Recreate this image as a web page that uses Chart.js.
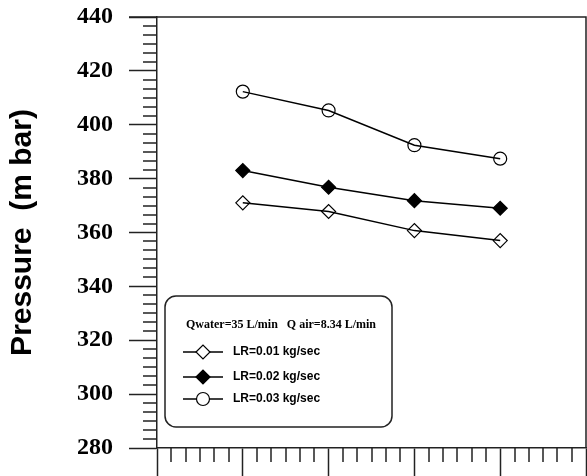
<!DOCTYPE html>
<html>
<head>
<meta charset="utf-8">
<script src="https://cdn.jsdelivr.net/npm/chart.js@4.4.0/dist/chart.umd.min.js"></script>
<style>
  html, body { margin: 0; padding: 0; background: #fff; }
  #wrap { width: 587px; height: 476px; }
</style>
</head>
<body>
<div id="wrap"><canvas id="chart"></canvas></div>
<script>
const xValues = [1, 2, 3, 4];
const lr001 = [371, 367.8, 360.7, 357];
const lr002 = [383, 376.8, 371.8, 369];
const lr003 = [412.3, 405.3, 392.4, 387.4];
const seriesLabels = ['LR=0.01 kg/sec', 'LR=0.02 kg/sec', 'LR=0.03 kg/sec'];
const legendTitle = 'Qwater=35 L/min   Q air=8.34 L/min';
const yTicks = [280, 300, 320, 340, 360, 380, 400, 420, 440];
const xTicks = [0, 1, 2, 3, 4, 5];

const axisColor = '#222';

const toPoints = (vals) => vals.map((v, i) => ({ x: xValues[i], y: v }));

// minor ticks + top/right frame
const frame = {
  id: 'frame',
  afterDraw(chart) {
    const { ctx, chartArea: a, scales: { x, y } } = chart;
    ctx.save();
    ctx.strokeStyle = axisColor;
    ctx.lineWidth = 1.5;
    ctx.beginPath();
    ctx.moveTo(a.left - 28, a.top);
    ctx.lineTo(a.right, a.top);
    ctx.lineTo(a.right, a.bottom);
    // y minor ticks, 6 steps per major
    for (let i = 0; i < yTicks.length - 1; i++) {
      for (let k = 1; k < 6; k++) {
        const py = Math.round(y.getPixelForValue(yTicks[i] + (yTicks[i + 1] - yTicks[i]) * k / 6));
        ctx.moveTo(a.left - 14, py);
        ctx.lineTo(a.left, py);
      }
    }
    for (let i = 0; i < xTicks.length - 1; i++) {
      for (let k = 1; k < 6; k++) {
        const px = Math.round(x.getPixelForValue(xTicks[i] + (xTicks[i + 1] - xTicks[i]) * k / 6));
        ctx.moveTo(px, a.bottom);
        ctx.lineTo(px, a.bottom + 14);
      }
    }
    ctx.stroke();
    ctx.restore();
  }
};

function marker(ctx, style, r, fill, cx, cy) {
  ctx.beginPath();
  if (style === 'circle') {
    ctx.arc(cx, cy, r, 0, Math.PI * 2);
  } else {
    ctx.moveTo(cx - r, cy);
    ctx.lineTo(cx, cy - r);
    ctx.lineTo(cx + r, cy);
    ctx.lineTo(cx, cy + r);
    ctx.closePath();
  }
  ctx.fillStyle = fill;
  ctx.fill();
  ctx.lineWidth = 1.2;
  ctx.strokeStyle = '#000';
  ctx.stroke();
}

const boxLegend = {
  id: 'boxLegend',
  afterDraw(chart) {
    const ctx = chart.ctx;
    ctx.save();
    ctx.lineWidth = 1.5;
    ctx.strokeStyle = axisColor;
    ctx.beginPath();
    ctx.roundRect(165, 296, 227, 131, 11);
    ctx.stroke();

    ctx.fillStyle = '#000';
    ctx.font = 'bold 12px "Liberation Serif"';
    ctx.textAlign = 'center';
    ctx.textBaseline = 'middle';
    ctx.fillText(legendTitle, 281, 325);

    const rows = [352, 377, 399];
    chart.data.datasets.forEach((ds, i) => {
      const yy = rows[i];
      ctx.beginPath();
      ctx.moveTo(183, yy);
      ctx.lineTo(223, yy);
      ctx.lineWidth = 1.5;
      ctx.strokeStyle = '#000';
      ctx.stroke();
      const fill = ds.pointBackgroundColor === '#000' ? '#000' : '#fff';
      marker(ctx, ds.pointStyle, ds.pointRadius, fill, 203, yy);
      ctx.fillStyle = '#000';
      ctx.font = 'bold 12px "Liberation Sans"';
      ctx.textAlign = 'left';
      ctx.fillText(ds.label, 233, yy);
    });
    ctx.restore();
  }
};

const common = {
  borderColor: '#000',
  borderWidth: 1.5,
  pointBorderColor: '#000',
  pointBorderWidth: 1.2,
  showLine: true,
  tension: 0
};

new Chart(document.getElementById('chart'), {
  type: 'scatter',
  data: {
    datasets: [
      { ...common, label: seriesLabels[0], data: toPoints(lr001), pointStyle: 'rectRot', pointRadius: 7, pointBackgroundColor: 'rgba(0,0,0,0)' },
      { ...common, label: seriesLabels[1], data: toPoints(lr002), pointStyle: 'rectRot', pointRadius: 7, pointBackgroundColor: '#000' },
      { ...common, label: seriesLabels[2], data: toPoints(lr003), pointStyle: 'circle', pointRadius: 6.5, pointBackgroundColor: 'rgba(0,0,0,0)' }
    ]
  },
  options: {
    responsive: true,
    maintainAspectRatio: false,
    animation: false,
    layout: { autoPadding: false, padding: { top: 17, right: 1, left: 0, bottom: 0 } },
    plugins: { legend: { display: false }, tooltip: { enabled: false } },
    scales: {
      x: {
        type: 'linear',
        min: 0,
        max: 5,
        afterBuildTicks: (s) => { s.ticks = xTicks.map((v) => ({ value: v })); },
        afterFit: (s) => { s.height = 28; s.paddingLeft = 0; s.paddingRight = 0; },
        ticks: { display: false },
        grid: { drawOnChartArea: false, tickLength: 28, tickWidth: 1.5, tickColor: axisColor },
        border: { color: axisColor, width: 1.5 }
      },
      y: {
        type: 'linear',
        min: 280,
        max: 440,
        afterBuildTicks: (s) => { s.ticks = yTicks.map((v) => ({ value: v })); },
        afterFit: (s) => { s.width = 157; s.paddingTop = 0; s.paddingBottom = 0; },
        ticks: {
          color: '#000',
          padding: 16,
          font: { family: 'Liberation Serif', size: 24, weight: 'bold' }
        },
        grid: { drawOnChartArea: false, tickLength: 28, tickWidth: 1.5, tickColor: axisColor },
        border: { color: axisColor, width: 1.5 },
        title: {
          display: true,
          text: 'Pressure  (m bar)',
          color: '#000',
          padding: { top: 5, bottom: 0 },
          font: { family: 'Liberation Sans', size: 30, weight: 'bold' }
        }
      }
    }
  },
  plugins: [frame, boxLegend]
});
</script>
</body>
</html>
